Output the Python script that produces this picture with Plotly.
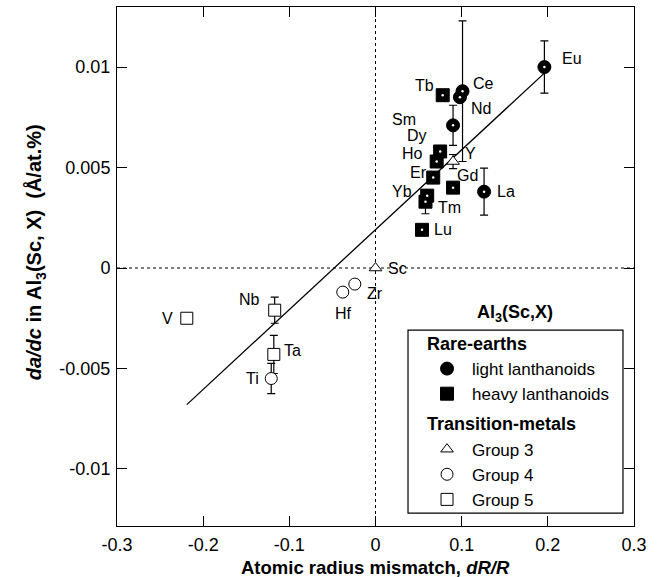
import math
import plotly.graph_objects as go

NaN = float("nan")

# ---------------- data ----------------
light_names = ["La", "Ce", "Nd", "Sm", "Eu"]
light_x = [0.126, 0.101, 0.098, 0.090, 0.196]
light_y = [0.0038, 0.0088, 0.0085, 0.0071, 0.0100]
light_err = [0.00117, 0.0035, NaN, 0.0010, 0.0013]

heavy_names = ["Gd", "Tb", "Dy", "Ho", "Er", "Tm", "Yb", "Lu"]
heavy_x = [0.090, 0.078, 0.075, 0.071, 0.067, 0.058, 0.060, 0.054]
heavy_y = [0.0040, 0.0086, 0.0058, 0.0053, 0.0045, 0.0033, 0.0036, 0.0019]
heavy_err = [NaN, NaN, NaN, NaN, NaN, 0.0006, NaN, NaN]

g3_names = ["Sc", "Y"]
g3_x = [0.0, 0.090]
g3_y = [0.0, 0.0053]
g3_err = [NaN, 0.00035]

g4_names = ["Ti", "Zr", "Hf"]
g4_x = [-0.121, -0.024, -0.038]
g4_y = [-0.0055, -0.0008, -0.0012]
g4_err = [0.00075, NaN, NaN]

g5_names = ["V", "Nb", "Ta"]
g5_x = [-0.219, -0.117, -0.118]
g5_y = [-0.0025, -0.0021, -0.0043]
g5_err = [NaN, 0.00065, 0.00095]

fit_x = [-0.219, 0.196]
fit_y = [-0.0068, 0.0097]

x_ticks = [-0.3, -0.2, -0.1, 0, 0.1, 0.2, 0.3]
x_ticktext = ["-0.3", "-0.2", "-0.1", "0", "0.1", "0.2", "0.3"]
y_ticks = [-0.01, -0.005, 0, 0.005, 0.01]
y_ticktext = ["-0.01", "-0.005", "0", "0.005", "0.01"]

# label offsets in pixels (dx right, dy down)
label_offsets = {
    "La": (22, 0), "Ce": (21, -8), "Nd": (21, 11), "Sm": (-49, -6), "Eu": (28, -9),
    "Gd": (14, -12), "Tb": (-18, -10), "Dy": (-23, -16), "Ho": (-24, -8), "Er": (-15, -5),
    "Tm": (24, 6), "Yb": (-25, -4), "Lu": (21, 0),
    "Sc": (22, 0), "Y": (17, -8),
    "Ti": (-19, 0), "Zr": (20, 9), "Hf": (1, 21),
    "V": (-19, 0), "Nb": (-25, -11), "Ta": (19, -4),
}

FONT = "Liberation Sans, Arial, sans-serif"

fig = go.Figure()

# fit line
fig.add_trace(go.Scatter(x=fit_x, y=fit_y, mode="lines",
                         line=dict(color="black", width=1.3),
                         showlegend=False, hoverinfo="skip"))

# error bars (behind markers)
def add_err(xs, ys, es):
    px, py, pe = [], [], []
    for a, b, e in zip(xs, ys, es):
        if not math.isnan(e):
            px.append(a); py.append(b); pe.append(e)
    if px:
        fig.add_trace(go.Scatter(x=px, y=py, mode="markers",
                                 marker=dict(size=1, color="rgba(0,0,0,0)"),
                                 error_y=dict(type="data", array=pe, visible=True,
                                              color="black", thickness=1.2, width=4),
                                 showlegend=False, hoverinfo="skip"))

for xs, ys, es in [(light_x, light_y, light_err), (heavy_x, heavy_y, heavy_err),
                   (g3_x, g3_y, g3_err), (g4_x, g4_y, g4_err), (g5_x, g5_y, g5_err)]:
    add_err(xs, ys, es)

# markers
fig.add_trace(go.Scatter(x=light_x, y=light_y, mode="markers", name="light lanthanoids",
                         legendgroup="re", legendgrouptitle=dict(text="<b>Rare-earths</b>"),
                         marker=dict(symbol="circle", size=13, color="black",
                                     line=dict(color="black", width=1))))
fig.add_trace(go.Scatter(x=heavy_x, y=heavy_y, mode="markers", name="heavy lanthanoids",
                         legendgroup="re",
                         marker=dict(symbol="square", size=13, color="black",
                                     line=dict(color="black", width=1))))
fig.add_trace(go.Scatter(x=g3_x, y=g3_y, mode="markers", name="Group 3",
                         legendgroup="tm", legendgrouptitle=dict(text="<b>Transition-metals</b>"),
                         marker=dict(symbol="triangle-up", size=11, color="white",
                                     line=dict(color="black", width=1))))
fig.add_trace(go.Scatter(x=g4_x, y=g4_y, mode="markers", name="Group 4",
                         legendgroup="tm",
                         marker=dict(symbol="circle", size=12, color="white",
                                     line=dict(color="black", width=1))))
fig.add_trace(go.Scatter(x=g5_x, y=g5_y, mode="markers", name="Group 5",
                         legendgroup="tm",
                         marker=dict(symbol="square", size=12, color="white",
                                     line=dict(color="black", width=1))))

# white centre dots on filled markers
fig.add_trace(go.Scatter(x=light_x + heavy_x, y=light_y + heavy_y, mode="markers",
                         marker=dict(size=2.5, color="white"),
                         showlegend=False, hoverinfo="skip"))

# point labels
annotations = []
for names, xs, ys in [(light_names, light_x, light_y), (heavy_names, heavy_x, heavy_y),
                      (g3_names, g3_x, g3_y), (g4_names, g4_x, g4_y), (g5_names, g5_x, g5_y)]:
    for n, a, b in zip(names, xs, ys):
        dx, dy = label_offsets[n]
        annotations.append(dict(x=a, y=b, xref="x", yref="y", text=n, showarrow=False,
                                xshift=dx, yshift=-dy, xanchor="center", yanchor="middle",
                                font=dict(family=FONT, size=16, color="black")))

# axis titles and legend title
annotations.append(dict(x=0.5, y=-0.079, xref="paper", yref="paper",
                        xanchor="center", yanchor="middle",
                        text="<b>Atomic radius mismatch, <i>dR/R</i></b>", showarrow=False,
                        font=dict(family=FONT, size=18.5, color="black")))
annotations.append(dict(x=-0.158, y=0.528, xref="paper", yref="paper", textangle=-90,
                        xanchor="center", yanchor="middle",
                        text="<b><i>da/dc</i> in Al<sub>3</sub>(Sc, X)  (Å/at.%)</b>",
                        showarrow=False, font=dict(family=FONT, size=20, color="black")))
annotations.append(dict(x=0.77, y=0.41, xref="paper", yref="paper",
                        xanchor="center", yanchor="middle",
                        text="<b>Al<sub>3</sub>(Sc,X)</b>", showarrow=False,
                        font=dict(family=FONT, size=18, color="black")))

shapes = [
    dict(type="line", xref="x", yref="paper", x0=0, x1=0, y0=0, y1=1,
         line=dict(color="black", width=1, dash="3px,3px"), layer="below"),
    dict(type="line", xref="paper", yref="y", x0=0, x1=1, y0=0, y1=0,
         line=dict(color="black", width=1, dash="3px,3px"), layer="below"),
    dict(type="rect", xref="paper", yref="paper", x0=0.5629, x1=0.9787, y0=0.025, y1=0.3776,
         line=dict(color="black", width=1.2), fillcolor="white", layer="above"),
]

axis_common = dict(showline=True, linecolor="black", linewidth=1, mirror="ticks",
                   ticks="inside", ticklen=10, tickwidth=1, tickcolor="black",
                   showgrid=False, zeroline=False,
                   tickfont=dict(family=FONT, size=18, color="black"))

fig.update_layout(
    width=660, height=577,
    margin=dict(l=117, r=26, t=7, b=51),
    paper_bgcolor="white", plot_bgcolor="white",
    font=dict(family=FONT, size=18, color="black"),
    xaxis=dict(range=[-0.3, 0.3], tickvals=x_ticks, ticktext=x_ticktext,
               ticklabelstandoff=2, **axis_common),
    yaxis=dict(range=[-0.01284, 0.01299], tickvals=y_ticks, ticktext=y_ticktext,
               ticklabelstandoff=2, **axis_common),
    legend=dict(x=0.59, y=0.388, xanchor="left", yanchor="top",
                bgcolor="rgba(0,0,0,0)", borderwidth=0,
                font=dict(family=FONT, size=17, color="black"),
                grouptitlefont=dict(family=FONT, size=18, color="black"),
                tracegroupgap=4, traceorder="grouped", itemwidth=40),
    annotations=annotations,
    shapes=shapes,
    showlegend=True,
)

fig.write_html("out.html", config={"displayModeBar": False},
               post_script="document.body.style.margin='0';")
